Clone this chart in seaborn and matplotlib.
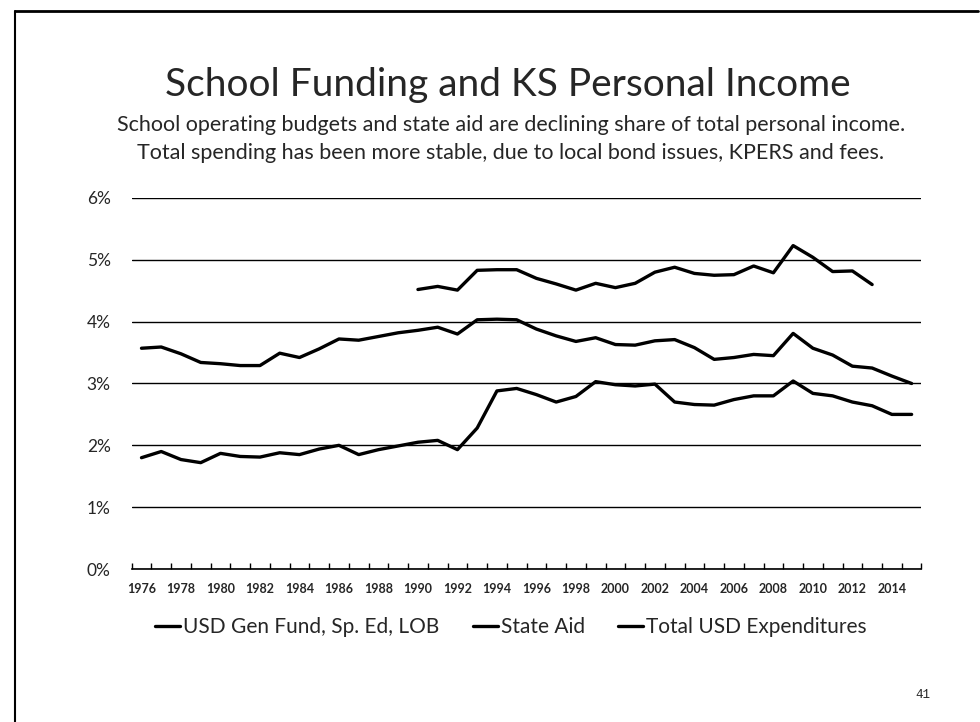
import numpy as np
import pandas as pd
import seaborn as sns
import matplotlib.pyplot as plt
from matplotlib.lines import Line2D
from matplotlib.ticker import FixedLocator, FuncFormatter

# values (% of KS personal income)
years = list(range(1976, 2016))
gen_fund = [3.57, 3.59, 3.48, 3.34, 3.32, 3.29, 3.29, 3.49, 3.42, 3.56,
            3.72, 3.70, 3.76, 3.82, 3.86, 3.91, 3.80, 4.03, 4.04, 4.03,
            3.88, 3.77, 3.68, 3.74, 3.63, 3.62, 3.69, 3.71, 3.58, 3.39,
            3.42, 3.47, 3.45, 3.81, 3.57, 3.46, 3.28, 3.25, 3.12, 3.00]
state_aid = [1.80, 1.90, 1.77, 1.72, 1.87, 1.82, 1.81, 1.88, 1.85, 1.94,
             2.00, 1.85, 1.93, 1.99, 2.05, 2.08, 1.93, 2.28, 2.88, 2.92,
             2.82, 2.70, 2.79, 3.03, 2.98, 2.96, 2.99, 2.70, 2.66, 2.65,
             2.74, 2.80, 2.80, 3.04, 2.84, 2.80, 2.70, 2.64, 2.50, 2.50]
total_usd = [np.nan] * 14 + [
             4.52, 4.57, 4.51, 4.83, 4.84, 4.84, 4.70, 4.61, 4.51, 4.62,
             4.55, 4.62, 4.80, 4.88, 4.78, 4.75, 4.76, 4.90, 4.79, 5.23,
             5.04, 4.81, 4.82, 4.60, np.nan, np.nan]

series_names = ['USD Gen Fund, Sp. Ed, LOB', 'State Aid', 'Total USD Expenditures']
year_labels = [str(y) for y in range(1976, 2015, 2)]

df = pd.DataFrame({'Year': years,
                   series_names[0]: gen_fund,
                   series_names[1]: state_aid,
                   series_names[2]: total_usd})
long_df = df.melt(id_vars='Year', var_name='Series', value_name='Share')

sns.set_style('white')
plt.rcParams['font.family'] = ['Lato', 'DejaVu Sans']

fig = plt.figure(figsize=(9.8, 7.22), dpi=100)
ax = fig.add_axes([0.1343, 0.2119, 0.806, 0.5139])

sns.lineplot(data=long_df, x='Year', y='Share', hue='Series',
             palette=['black', 'black', 'black'], linewidth=2.4,
             ax=ax, legend=True)

ax.set_xlim(1975.5, 2015.5)
ax.set_ylim(0, 6)
ax.set_yticks(range(0, 7))
ax.yaxis.set_major_formatter(FuncFormatter(lambda v, p: f'{int(v)}%'))
ax.grid(axis='y', color='black', linewidth=1.0)
ax.set_axisbelow(True)

ax.xaxis.set_major_locator(FixedLocator(range(1976, 2015, 2)))
ax.set_xticklabels(year_labels, fontweight='bold')
ax.xaxis.set_minor_locator(FixedLocator(np.arange(1975.5, 2016, 1)))
ax.tick_params(axis='x', which='major', length=0, pad=10, labelsize=9)
ax.tick_params(axis='x', which='minor', direction='in', length=4, width=1, color='black', bottom=True)
ax.tick_params(axis='y', length=0, pad=15, labelsize=12.5)

for s in ['top', 'right', 'left']:
    ax.spines[s].set_visible(False)
ax.spines['bottom'].set_color('black')
ax.spines['bottom'].set_linewidth(1.2)
ax.set_xlabel('')
ax.set_ylabel('')

handles, labels = ax.get_legend_handles_labels()
ax.legend_.remove()
fig.legend(handles, labels, loc='center', bbox_to_anchor=(511 / 980, 1 - 627 / 722),
           ncol=3, frameon=False, fontsize=15, handlelength=1.2,
           handletextpad=0.15, columnspacing=1.6)

fig.text(508 / 980, 1 - 85 / 722, 'School Funding and KS Personal Income',
         ha='center', va='center', fontsize=28)
fig.text(511 / 980, 1 - 125 / 722,
         'School operating budgets and state aid are declining share of total personal income.',
         ha='center', va='center', fontsize=15.5)
fig.text(511 / 980, 1 - 153 / 722,
         'Total spending has been more stable, due to local bond issues, KPERS and fees.',
         ha='center', va='center', fontsize=15.5)
fig.text(923 / 980, 1 - 695 / 722, '41', ha='center', va='center',
         fontsize=9, family='Liberation Mono')

# slide frame
fig.add_artist(Line2D([15 / 980, 978 / 980], [1 - 11 / 722, 1 - 11 / 722], color='black', linewidth=2))
fig.add_artist(Line2D([15 / 980, 15 / 980], [1 - 11 / 722, 0.0], color='black', linewidth=1.5))

fig.savefig('out.png', dpi=100, facecolor='white')
